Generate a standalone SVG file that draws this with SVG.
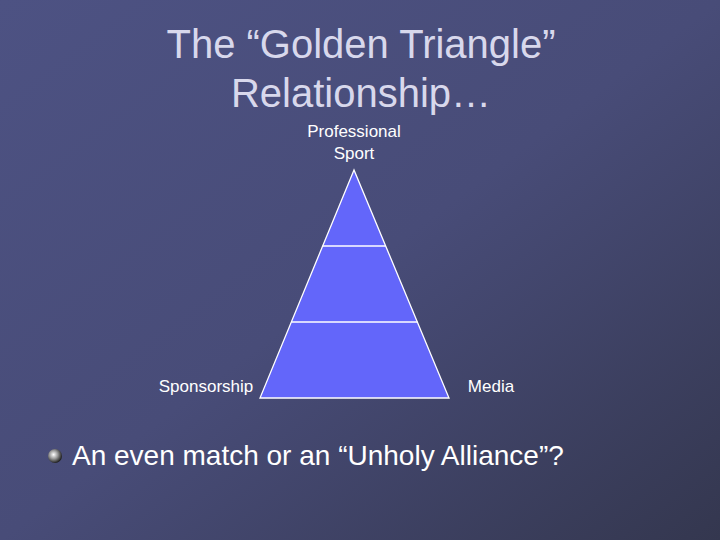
<svg xmlns="http://www.w3.org/2000/svg" width="720" height="540" viewBox="0 0 720 540">
<defs>
<linearGradient id="bg" x1="0" y1="0" x2="1" y2="1">
<stop offset="0" stop-color="#4d5283"/>
<stop offset="0.5" stop-color="#484c78"/>
<stop offset="1" stop-color="#34374f"/>
</linearGradient>
<radialGradient id="bul" cx="0.4" cy="0.4" r="0.6">
<stop offset="0" stop-color="#ffffff"/>
<stop offset="0.5" stop-color="#999999"/>
<stop offset="1" stop-color="#222222"/>
</radialGradient>
<style>
.t{font-family:"Liberation Sans",Arial,sans-serif;fill:#ffffff}
.title{font-size:40px;fill:#d8d8ec;text-anchor:middle}
.lbl{font-size:17px;text-anchor:middle}
.ln{stroke:#ffffff;stroke-width:1.3;fill:none}
</style>
</defs>
<rect width="720" height="540" fill="url(#bg)"/>
<g id="title">
<text class="t title" x="361" y="58">The “Golden Triangle”</text>
<text class="t title" x="361" y="107">Relationship…</text>
</g>
<g id="triangle">
<polygon points="354,170 260,398 449,398" fill="#6366fa" stroke="#ffffff" stroke-width="1.3"/>
</g>
<g id="connectors">
<line class="ln" x1="322.7" y1="246" x2="385.7" y2="246"/>
<line class="ln" x1="291.3" y1="322" x2="417.3" y2="322"/>
</g>
<g id="sport"><text class="t lbl" x="354" y="137">Professional</text><text class="t lbl" x="354" y="159">Sport</text></g>
<g id="sponsorship"><text class="t lbl" x="206" y="392">Sponsorship</text></g>
<g id="media"><text class="t lbl" x="491" y="392">Media</text></g>
<g id="bullet">
<circle cx="55" cy="456" r="7" fill="url(#bul)"/>
<text class="t" x="72" y="465" font-size="28">An even match or an “Unholy Alliance”?</text>
</g>
</svg>
